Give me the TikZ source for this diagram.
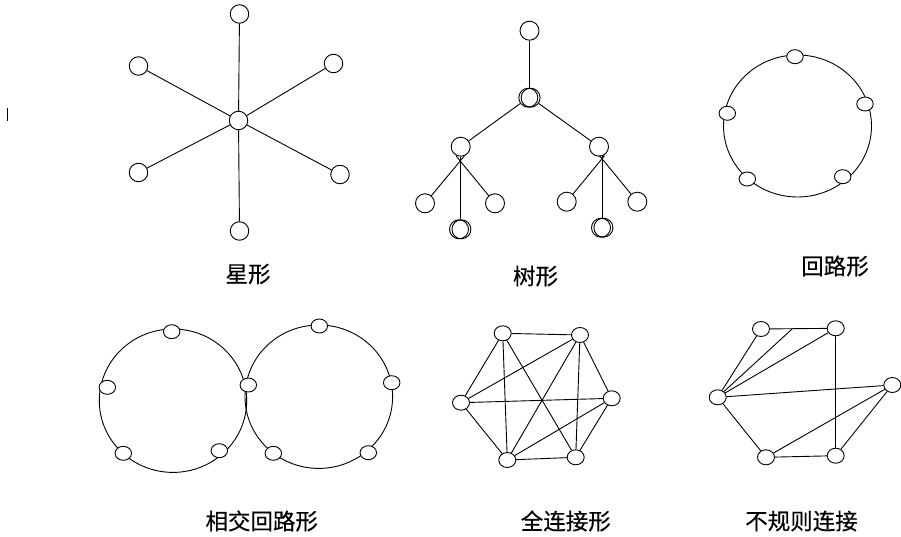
\documentclass[tikz,border=0pt]{standalone}
\usepackage{fontspec}
\newfontfamily\cjk[FakeBold=0.35]{Noto Sans CJK SC}
\usetikzlibrary{shapes.geometric,calc}
\begin{document}
\begin{tikzpicture}[x=1pt,y=-1pt,line width=0.9pt,
  cnode/.style={circle,draw,minimum size=18.5pt,inner sep=0pt},
  tnode/.style={circle,draw,minimum size=19pt,inner sep=0pt},
  enode/.style={ellipse,draw,fill=white,minimum width=16.5pt,minimum height=14pt,inner sep=0pt},
  mnode/.style={ellipse,draw,fill=white,minimum width=17pt,minimum height=15pt,inner sep=0pt},
  lbl/.style={font=\cjk\fontsize{22.5}{26}\selectfont,inner sep=0pt}]
\useasboundingbox (0,0) rectangle (901,537);

% small mark at left
\coordinate (m1) at (7.3,108.5);
\coordinate (m2) at (7.3,121.5);
\draw (m1) -- (m2);

% ---------- star ----------
\node[cnode] (s0) at (238.5,120.5) {};
\node[cnode] (s1) at (239.5,14) {};
\node[cnode] (s2) at (333.5,63.5) {};
\node[cnode] (s3) at (340,174.5) {};
\node[cnode] (s4) at (239.5,231) {};
\node[cnode] (s5) at (138.5,172.5) {};
\node[cnode] (s6) at (138.5,66) {};
\foreach \i in {1,...,6} \draw (s0) -- (s\i);
\node[lbl] (ls) at (248,274) {星形};

% ---------- tree ----------
\node[tnode] (t0) at (529.5,30.7) {};
\node[tnode] (t1) at (528.3,97.7) {};
\node[tnode] (t1b) at (530.6,97.7) {};
\node[tnode] (tl) at (460.7,146.7) {};
\node[tnode] (tr) at (599,146.7) {};
\node[tnode] (tll) at (425,203.3) {};
\node[tnode] (tlr) at (495,203.3) {};
\node[tnode] (tlm) at (459,229.3) {};
\node[tnode] (tlm2) at (461.4,229.3) {};
\node[tnode] (trl) at (566.7,201.7) {};
\node[tnode] (trr) at (637.3,201.7) {};
\node[tnode] (trm) at (601,227.7) {};
\node[tnode] (trm2) at (603.4,227.7) {};
\draw (t0) -- (t1.north -| t0);
\draw (t1) -- (tl);
\draw (t1b) -- (tr);
\draw (tll) -- ([xshift=3.5pt,yshift=0.5pt]tl.south);
\draw (tlr) -- ([xshift=-4.5pt,yshift=0.5pt]tl.south);
\draw ([xshift=-0.5pt]tl.south) -- ([xshift=-0.5pt]tl.south |- tlm.north);
\draw (trl) -- ([xshift=5.5pt,yshift=1pt]tr.south);
\draw (trr) -- ([xshift=0.5pt,yshift=1pt]tr.south);
\draw ([xshift=3.5pt,yshift=1pt]tr.south) -- ([xshift=3.5pt]tr.south |- trm.north);
\node[lbl] (lt) at (535.5,276) {树形};

% ---------- ring ----------
\coordinate (rc) at (797.5,126);
\draw (rc) ellipse [x radius=74pt,y radius=71pt];
\node[enode] (r1) at (795,56.7) {};
\node[enode] (r2) at (865,104) {};
\node[enode] (r3) at (842.7,176.7) {};
\node[enode] (r4) at (747.3,179) {};
\node[enode] (r5) at (727.3,113.3) {};
\node[lbl] (lr) at (835,266) {回路形};

% ---------- intersecting rings ----------
\coordinate (ac) at (173,400.7);
\coordinate (bc) at (318.8,396.7);
\draw (ac) ellipse [x radius=73.7pt,y radius=71.7pt];
\draw (bc) ellipse [x radius=73.8pt,y radius=71.7pt];
\node[enode] (a1) at (171.7,331.7) {};
\node[enode] (a2) at (107.3,387.3) {};
\node[enode] (a3) at (123.3,453.3) {};
\node[enode] (a4) at (219.3,450.7) {};
\node[enode] (ab) at (248.3,385) {};
\node[enode] (b1) at (319.3,326) {};
\node[enode] (b2) at (391.7,382.7) {};
\node[enode] (b3) at (368.3,452.7) {};
\node[enode] (b4) at (273.3,453.3) {};
\node[lbl] (la) at (261.7,521) {相交回路形};

% ---------- full mesh ----------
\node[mnode] (A) at (502.7,333.3) {};
\node[mnode] (B) at (580,335) {};
\node[mnode] (C) at (611.7,398.3) {};
\node[mnode] (D) at (575.7,457.3) {};
\node[mnode] (E) at (507.3,460) {};
\node[mnode] (F) at (461,402.7) {};
\foreach \u/\v in {A/B,A/F,A/E,A/D,B/F,B/E,B/D,B/C,F/C,F/E,E/C,E/D,D/C}
  \draw (\u) -- (\v);
\node[lbl] (lm) at (565.8,521) {全连接形};

% ---------- irregular ----------
\node[mnode] (P) at (761,329) {};
\node[mnode] (Q) at (835.7,328.3) {};
\node[mnode] (R) at (892.3,385) {};
\node[mnode] (S) at (717.7,397.3) {};
\node[mnode] (T) at (766,457.3) {};
\node[mnode] (U) at (835.7,455.7) {};
\coordinate (PQ) at ($(P)!0.42!(Q)$);
\foreach \u/\v in {P/Q,S/P,S/Q,S/R,S/T,T/R,T/U,Q/U,U/R}
  \draw (\u) -- (\v);
\draw (S) -- (PQ);
\node[lbl] (li) at (801.5,521) {不规则连接};
\end{tikzpicture}
\end{document}
